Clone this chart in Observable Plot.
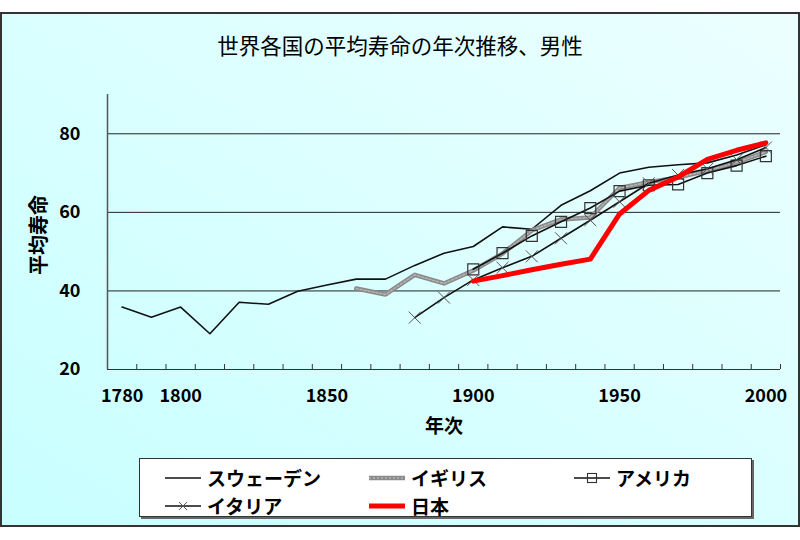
<!DOCTYPE html>
<html><head><meta charset="utf-8">
<script src="https://cdn.jsdelivr.net/npm/d3@7"></script>
<script src="https://cdn.jsdelivr.net/npm/@observablehq/plot@0.6"></script>
<style>
body{margin:0;background:#fff;font-family:"Noto Sans CJK JP",sans-serif;}
#page{position:relative;width:800px;height:540px;overflow:hidden;}
#frame{position:absolute;left:0;top:12px;width:796px;height:511px;border:2px solid #333;background:linear-gradient(to top right,#c8ffff,#ecffff);}
#title{position:absolute;left:0;top:32px;width:800px;text-align:center;font-size:21.5px;line-height:26px;color:#000;}
#ytitle{position:absolute;left:38px;top:235px;transform:translate(-50%,-50%) rotate(-90deg);font-size:20px;font-weight:bold;white-space:nowrap;line-height:22px;}
#chart{position:absolute;left:0;top:0;}
#legend{position:absolute;left:139px;top:458px;width:611px;height:57px;background:#fff;border:1px solid #333;box-shadow:2px 2px 0 #666;}
.item{position:absolute;display:flex;align-items:center;font-size:19px;font-weight:bold;height:24px;line-height:24px;}
.item svg{margin-right:5px;}
</style></head>
<body>
<div id="page">
  <div id="frame"></div>
  <div id="title">世界各国の平均寿命の年次推移、男性</div>
  <div id="chart"></div>
  <div id="ytitle">平均寿命</div>
  <div id="legend"></div>
</div>
<script>
// categories (years, every 10)
const years = [1780,1790,1800,1810,1820,1830,1840,1850,1860,1870,1880,1890,1900,1910,1920,1930,1940,1950,1960,1970,1980,1990,2000];
const tickBounds = [1775,1785,1795,1805,1815,1825,1835,1845,1855,1865,1875,1885,1895,1905,1915,1925,1935,1945,1955,1965,1975,1985,1995,2005];
const xLabels = [1780,1800,1850,1900,1950,2000];
const yTicks = [20,40,60,80];
const yGrid = [40,60,80];

// series
const swedenYears = years;
const sweden = [35.9,33.3,35.9,29.1,37.1,36.6,39.9,41.5,43.0,43.0,46.5,49.6,51.3,56.3,55.7,61.8,65.5,70.0,71.5,72.1,72.6,74.6,77.2];
const ukYears = [1860,1870,1880,1890,1900,1910,1920,1930,1940,1950,1960,1970,1980,1990,2000];
const uk = [40.6,39.1,44.1,41.9,45.2,49.5,55.4,58.2,58.7,66.2,67.7,68.9,70.6,72.7,75.4];
const usaYears = [1900,1910,1920,1930,1940,1950,1960,1970,1980,1990,2000];
const usa = [45.5,49.6,54.0,57.6,61.1,65.4,66.9,67.1,70.0,71.9,74.3];
const italyYears = [1880,1890,1900,1910,1920,1930,1940,1950,1960,1970,1980,1990,2000];
const italy = [33.2,38.3,42.8,45.9,48.8,53.4,58.0,62.7,67.4,69.5,71.1,73.4,76.5];
const japanYears = [1900,1910,1920,1930,1940,1950,1960,1970,1980,1990,2000];
const japan = [42.5,43.9,45.4,46.8,48.1,59.6,65.6,69.0,73.5,75.8,77.7];

const names = ["スウェーデン","イギリス","アメリカ","イタリア","日本"];

const rows = (ys, vs) => ys.map((y, i) => ({year: y, value: vs[i]}));
const sw = rows(swedenYears, sweden);
const gb = rows(ukYears, uk);
const us = rows(usaYears, usa);
const it = rows(italyYears, italy);
const jp = rows(japanYears, japan);

const chart = Plot.plot({
  width: 800,
  height: 450,
  marginTop: 94,
  marginBottom: 81,
  marginLeft: 107,
  marginRight: 20,
  style: {background: "transparent", fontFamily: "Noto Sans CJK JP", fontSize: "18px", color: "#000", overflow: "visible"},
  x: {domain: [1775, 2005]},
  y: {domain: [20, 90]},
  marks: [
    Plot.gridY(yGrid, {stroke: "#222", strokeOpacity: 1, strokeWidth: 1}),
    Plot.ruleX(tickBounds, {stroke: "#333", insetTop: 270}),
    Plot.ruleY([20], {stroke: "#333", strokeWidth: 1.2}),
    Plot.ruleX([1775], {stroke: "#555", strokeWidth: 1.5}),
    Plot.axisX(xLabels, {tickSize: 0, tickPadding: 20, fontSize: 18, fontWeight: "bold", tickFormat: d => String(d), label: null}),
    Plot.axisY(yTicks, {tickSize: 0, tickPadding: 27, fontSize: 18, fontWeight: "bold", label: null}),
    Plot.text(["年次"], {frameAnchor: "bottom", dy: 63, fontSize: 19, fontWeight: "bold"}),
    Plot.line(sw, {x: "year", y: "value", stroke: "#111", strokeWidth: 1.6}),
    Plot.line(gb, {x: "year", y: "value", stroke: "#8a8a8a", strokeWidth: 4.5}),
    Plot.line(gb, {x: "year", y: "value", stroke: "#b5b5b5", strokeWidth: 1.5, strokeDasharray: "2 2"}),
    Plot.line(us, {x: "year", y: "value", stroke: "#111", strokeWidth: 1.6}),
    Plot.dot(us, {x: "year", y: "value", symbol: "square", r: 6.2, stroke: "#333", strokeWidth: 1.2, fill: "none"}),
    Plot.line(it, {x: "year", y: "value", stroke: "#111", strokeWidth: 1.6}),
    Plot.dot(it, {x: "year", y: "value", symbol: "times", r: 5.5, stroke: "#555", strokeWidth: 1}),
    Plot.line(jp, {x: "year", y: "value", stroke: "#ff0000", strokeWidth: 5})
  ]
});
document.getElementById("chart").appendChild(chart);

// legend
const swatch = {
  "スウェーデン": `<line x1="0" y1="6" x2="36" y2="6" stroke="#111" stroke-width="1.6"/>`,
  "イギリス": `<line x1="0" y1="6" x2="36" y2="6" stroke="#8a8a8a" stroke-width="4.5"/><line x1="0" y1="6" x2="36" y2="6" stroke="#b5b5b5" stroke-width="1.5" stroke-dasharray="2 2"/>`,
  "アメリカ": `<line x1="0" y1="6" x2="36" y2="6" stroke="#111" stroke-width="1.4"/><rect x="13.5" y="1.5" width="9" height="9" fill="none" stroke="#333" stroke-width="1.1"/>`,
  "イタリア": `<line x1="0" y1="6" x2="36" y2="6" stroke="#111" stroke-width="1.4"/><path d="M14,2 L22,10 M22,2 L14,10" stroke="#555" stroke-width="1"/>`,
  "日本": `<line x1="0" y1="6" x2="36" y2="6" stroke="#ff0000" stroke-width="5"/>`
};
const pos = [[25,7],[229,7],[434,7],[25,35],[229,35]];
const leg = document.getElementById("legend");
names.forEach((n, i) => {
  const d = document.createElement("div");
  d.className = "item";
  d.style.left = pos[i][0] + "px";
  d.style.top = pos[i][1] + "px";
  d.innerHTML = `<svg width="37" height="12">${swatch[n]}</svg><span>${n}</span>`;
  leg.appendChild(d);
});
</script>
</body></html>
